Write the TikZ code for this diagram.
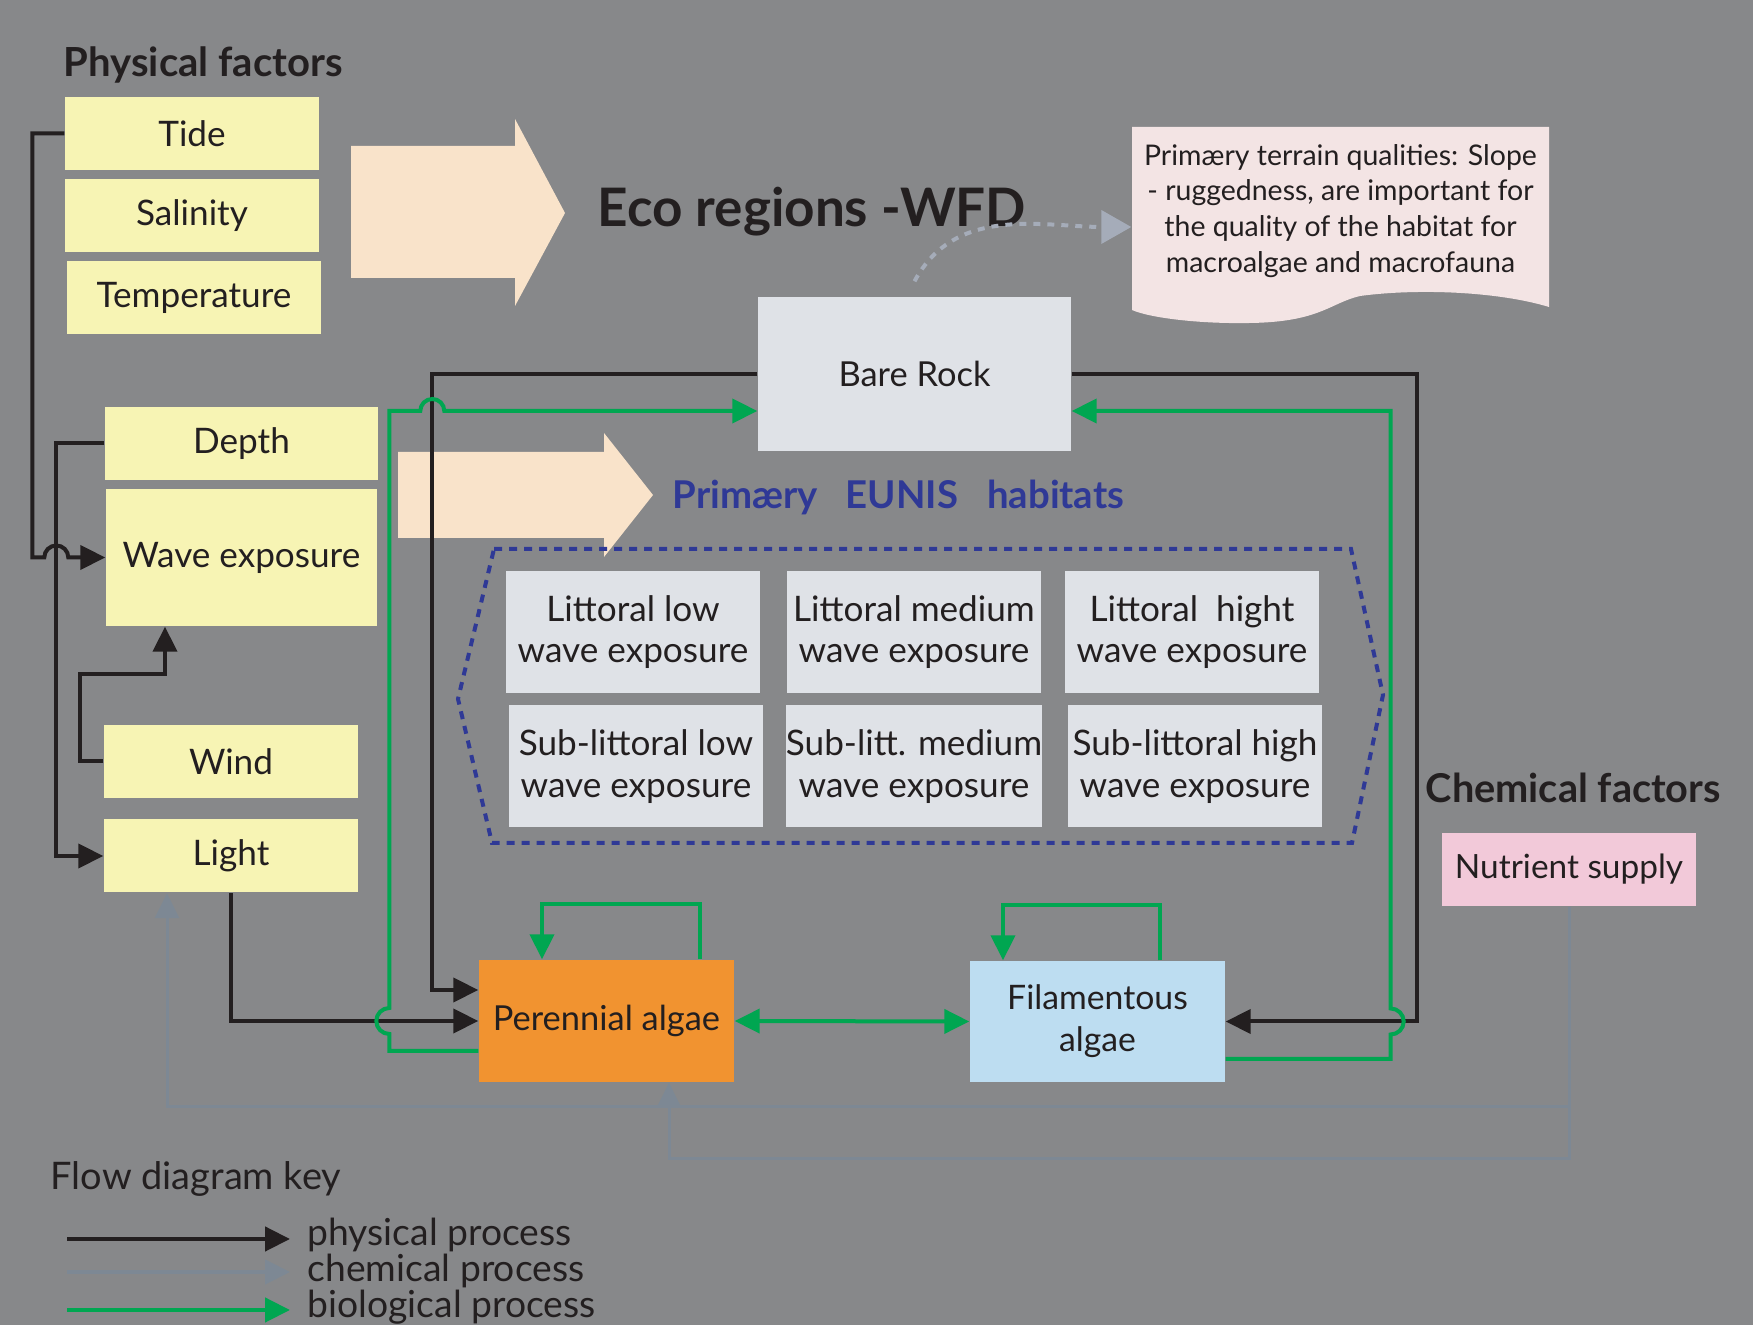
\documentclass[tikz,border=0pt]{standalone}
\usepackage{fontspec}
\setmainfont{Lato}
\usetikzlibrary{arrows.meta,calc}

\definecolor{bggray}{HTML}{87888A}
\definecolor{inkblack}{HTML}{231F20}
\definecolor{factorfill}{HTML}{F7F4B4}
\definecolor{peach}{HTML}{F9E3CA}
\definecolor{rockfill}{HTML}{DFE2E7}
\definecolor{perennialfill}{HTML}{F19330}
\definecolor{filamentfill}{HTML}{BDDDF1}
\definecolor{nutrientfill}{HTML}{F2C9D9}
\definecolor{notefill}{HTML}{F3E4E4}
\definecolor{eunisblue}{HTML}{2F3996}
\definecolor{biogreen}{HTML}{00A651}
\definecolor{chemgray}{HTML}{7D8894}
\definecolor{dotgray}{HTML}{A5ACB9}

\tikzset{
  factor/.style={fill=factorfill, text=inkblack, inner sep=0pt,
    minimum width=25.4mm, minimum height=7.3mm, font=\fontsize{10}{12}\selectfont},
  habitat/.style={fill=rockfill, text=inkblack, inner sep=0pt, align=center,
    minimum width=25.4mm, minimum height=12.2mm, font=\fontsize{10}{11.8}\selectfont},
  heading/.style={anchor=base west, inner sep=0pt, text=inkblack},
  keytext/.style={anchor=base west, inner sep=0pt, text=inkblack, font=\fontsize{10.6}{11}\selectfont},
  tip/.tip={Triangle[length=2.5mm,width=2.4mm]},
  phys/.style={draw=inkblack, line width=0.4mm, -tip},
  bio/.style={draw=biogreen, line width=0.4mm, -tip},
  chem/.style={draw=chemgray, line width=0.3mm, -tip},
  dotarrow/.style={draw=dotgray, line width=0.4mm, dash pattern=on 0.7mm off 0.7mm,
    -{Triangle[length=3mm,width=3.3mm]}},
  eunisframe/.style={draw=eunisblue, line width=0.4mm, dash pattern=on 0.8mm off 0.7mm}
}

\begin{document}
\begin{tikzpicture}[x=0.1mm, y=-0.1mm]
\fill[bggray] (0,0) rectangle (1753,1325);
\useasboundingbox (0,0) rectangle (1753,1325);

% big arrows
\fill[peach] (351,146) -- (515,146) -- (515,119) -- (565,213) -- (515,306) -- (515,278) -- (351,278) -- cycle;
\fill[peach] (398,452) -- (604,452) -- (604,433) -- (653,495) -- (604,557) -- (604,538) -- (398,538) -- cycle;

% titles
\node[heading, font=\bfseries\fontsize{11.4}{12}\selectfont] (physical) at (63,77) {Physical factors};
\node[heading, font=\bfseries\fontsize{15.1}{16}\selectfont] (eco) at (597,227) {Eco regions -WFD};
\node[heading, text=eunisblue, font=\bfseries\fontsize{10.9}{12}\selectfont] (eunis) at (672,509)
  {Primæry\hspace{2.8mm}EUNIS\hspace{2.9mm}habitats};
\node[heading, font=\bfseries\fontsize{11.3}{12}\selectfont] (chemical) at (1425,803) {Chemical factors};

% physical factors
\node[factor] (tide) at (192,133.5) {Tide};
\node[factor] (salinity) at (192,215.5) {Salinity};
\node[factor] (temperature) at (194,298) {Temperature};
\node[factor, minimum width=27.3mm] (depth) at (241.5,443.5) {Depth};
\node[factor, minimum width=27.1mm, minimum height=13.7mm] (wave) at (241.5,557.5) {Wave exposure};
\node[factor] (wind) at (231,761.5) {Wind};
\node[factor] (light) at (231,856) {Light};

% note
\fill[notefill] (1132,127) -- (1549,127) -- (1549,307)
  .. controls (1500,292) and (1420,288) .. (1360,296)
  .. controls (1330,303) and (1320,322) .. (1250,323)
  .. controls (1200,324) and (1150,318) .. (1132,310) -- cycle;
\node[inner sep=0pt, minimum width=41.7mm, align=center, text=inkblack,
  font=\fontsize{8.1}{10.2}\selectfont] (note) at (1340.5,211)
  {Primæry terrain qualities: Slope\\- ruggedness, are important for\\the quality of the habitat for\\macroalgae and macrofauna};

% habitats
\node[fill=rockfill, text=inkblack, inner sep=0pt, minimum width=31.3mm, minimum height=15.4mm,
  font=\fontsize{9.8}{12}\selectfont] (barerock) at (914.5,374) {Bare Rock};
\draw[eunisframe] (494,549) -- (1351,549) -- (1383,695) -- (1352,843) -- (492,843) -- (458,699) -- cycle;
\node[habitat] (litlow) at (633,632) {Littoral low\\wave exposure};
\node[habitat] (litmed) at (914,632) {Littoral medium\\wave exposure};
\node[habitat] (lithigh) at (1192,632) {Littoral\ \ hight\\wave exposure};
\node[habitat] (sublow) at (636,766.5) {Sub-littoral low\\wave exposure};
\node[habitat] (submed) at (914,766.5) {Sub-litt. medium\\wave exposure};
\node[habitat] (subhigh) at (1195,766.5) {Sub-littoral high\\wave exposure};

% algae
\node[fill=perennialfill, text=inkblack, inner sep=0pt, minimum width=25.5mm, minimum height=12.2mm,
  font=\fontsize{9.8}{12}\selectfont] (perennial) at (606.5,1021) {Perennial algae};
\node[fill=filamentfill, text=inkblack, inner sep=0pt, minimum width=25.5mm, minimum height=12.1mm,
  align=center, font=\fontsize{9.6}{12}\selectfont] (filament) at (1097.5,1021.5) {Filamentous\\algae};
\node[fill=nutrientfill, text=inkblack, inner sep=0pt, minimum width=25.4mm, minimum height=7.3mm,
  font=\fontsize{9.5}{12}\selectfont] (nutrient) at (1569,869.5) {Nutrient supply};

% physical processes
\draw[phys] (tide.west) -- ++(-32,0) |- ([xshift=-6.1mm]wave.west)
  arc[start angle=180, end angle=0, radius=1.2mm] -- (wave.west);
\draw[phys] (depth.west) -- ++(-48,0) |- (light.west);
\draw[phys] (wind.west) -- ++(-23,0) -- ++(0,-87.5) -| ([xshift=-7.65mm]wave.south);
\draw[phys] (light.south) |- (perennial.west);
\draw[phys] (barerock.west) -| ([xshift=-4.6mm,yshift=3.1mm]perennial.west) -- ([yshift=3.1mm]perennial.west);
\draw[phys] (barerock.east) -- ++(345,0) |- (filament.east);

% biological processes
\draw[bio] ([yshift=-3mm]perennial.west) -- ++(-89,0) -- ++(0,-17)
  arc[start angle=270, end angle=90, radius=1.3mm]
  |- ([xshift=-33.7mm,yshift=-3.7mm]barerock.west)
  arc[start angle=180, end angle=0, radius=1.2mm] -- ([yshift=-3.7mm]barerock.west);
\draw[bio] ([yshift=-3.75mm]filament.east) -- ++(165,0) -- ++(0,-24.5)
  arc[start angle=-90, end angle=90, radius=1.3mm] |- ([yshift=-3.7mm]barerock.east);
\draw[bio] ([xshift=9.35mm]perennial.north) -- ++(0,-55) -| ([xshift=-6.45mm]perennial.north);
\draw[bio] ([xshift=6.25mm]filament.north) -- ++(0,-55) -| ([xshift=-9.45mm]filament.north);
\draw[bio, tip-tip] (perennial.east) -- (filament.west);

% chemical processes
\draw[chem] (nutrient.south) -- ++(0,200) -| ([xshift=-6.4mm]light.south);
\draw[chem] (nutrient.south) -- ++(0,252) -| ([xshift=6.25mm]perennial.south);

% terrain note
\draw[dotarrow] ([yshift=1.5mm]barerock.north) to[out=62, in=180] ([yshift=-1.6mm]note.west);

% key
\node[keytext, font=\fontsize{10.8}{11}\selectfont] (flowkey) at (50,1190) {Flow diagram key};
\coordinate (physstart) at (67,1239);
\coordinate (physend) at (290,1239);
\coordinate (chemstart) at (67,1272);
\coordinate (chemend) at (290,1272);
\coordinate (biostart) at (67,1310);
\coordinate (bioend) at (290,1310);
\draw[phys, line width=0.45mm] (physstart) -- (physend);
\draw[chem, line width=0.45mm] (chemstart) -- (chemend);
\draw[bio, line width=0.45mm] (biostart) -- (bioend);
\node[keytext] (physlabel) at (307,1246) {physical process};
\node[keytext] (chemlabel) at (307,1282) {chemical process};
\node[keytext] (biolabel) at (307,1318) {biological process};
\end{tikzpicture}
\end{document}
